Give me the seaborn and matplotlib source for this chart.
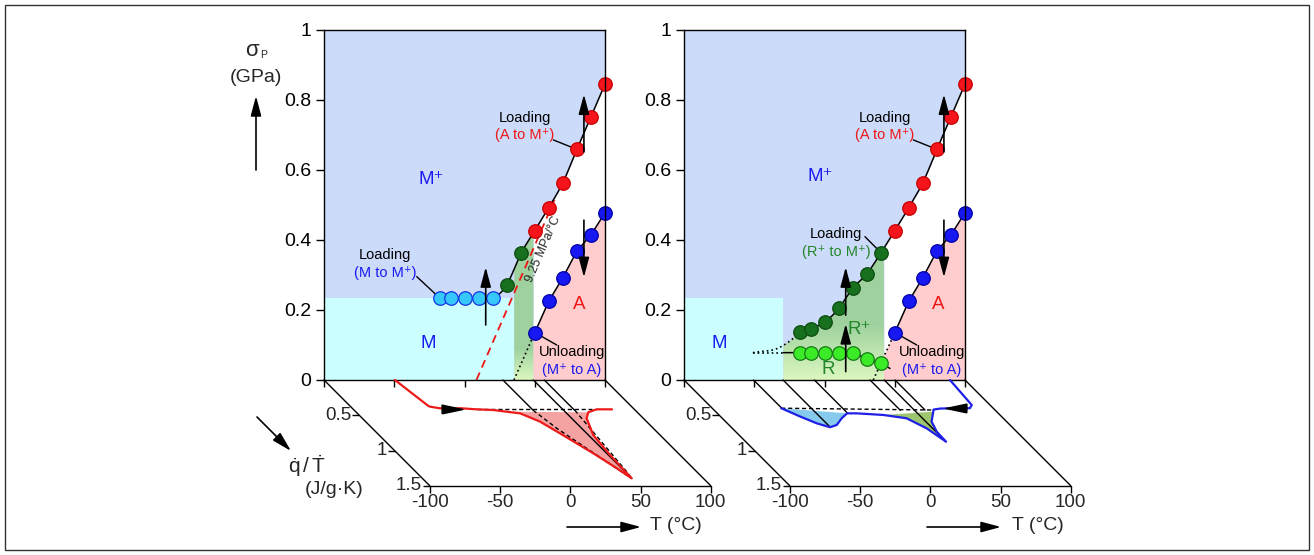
import numpy as np
import matplotlib
matplotlib.use("Agg")
import matplotlib.pyplot as plt
import matplotlib.transforms as mtransforms
from matplotlib.patches import Polygon, Rectangle, FancyArrowPatch
from matplotlib.markers import TICKDOWN, TICKLEFT
import seaborn as sns

# ====================== DATA ======================
T_ticks = [-100, -50, 0, 50, 100]
T_tick_labels = ["-100", "-50", "0", "50", "100"]
sigma_ticks = [0, 0.2, 0.4, 0.6, 0.8, 1.0]
sigma_tick_labels = ["0", "0.2", "0.4", "0.6", "0.8", "1"]
q_ticks = [0.5, 1.0, 1.5]
q_tick_labels = ["0.5", "1", "1.5"]

# loading A -> M+ and unloading M+ -> A (both panels)
T_A_to_Mp = [50, 60, 70, 80, 90, 100]
sig_A_to_Mp = [0.426, 0.492, 0.563, 0.658, 0.751, 0.844]
T_Mp_to_A = [50, 60, 70, 80, 90, 100]
sig_Mp_to_A = [0.135, 0.225, 0.292, 0.368, 0.414, 0.477]

# left panel: M -> M+ loading, and transitional points
T_M_to_Mp = [-17.4, -9.8, 0.4, 10.1, 20.1]
sig_M_to_Mp = [0.233, 0.233, 0.233, 0.233, 0.233]
T_trans_left = [30.0, 40.2]
sig_trans_left = [0.271, 0.361]

# right panel: R+ -> M+ loading, R plateau
T_Rp_to_Mp = [-17.4, -9.8, 0.4, 10.1, 20.1, 30.0, 40.2]
sig_Rp_to_Mp = [0.136, 0.146, 0.166, 0.204, 0.262, 0.302, 0.363]
T_R = [-17.4, -9.8, 0.4, 10.1, 20.1, 30.0, 40.2]
sig_R = [0.078, 0.078, 0.078, 0.078, 0.078, 0.061, 0.048]
T_Rp_extrap = [-51.0, -45.9, -36.4, -28.8, -22.2]
sig_Rp_extrap = [0.078, 0.081, 0.086, 0.100, 0.119]
T_R_ends = [-51.0, -29.3, 46.6]
sig_R_ends = [0.078, 0.078, 0.033]

# phase field limits
M_top = 0.233
band_left_panel = [35.4, 49.0]
band_right_panel = [-29.3, 42.3]
unload_zero_T = [35.2, 34.7]
cc_slope = 0.00925          # GPa/°C  (9.25 MPa/°C)
cc_T = [8.5, 64.0]

# DSC heating curve (left floor)
T_dsc_heat = [-49.5, -44.2, -43.5, -38.0, -31.0, -23.3, -12.2, -0.8, 7.5, 15.8, 20.6, 24.1,
              30.0, 39.5, 45.5, 49.0, 50.2, 52.5, 59.7, 65.1, 73.2, 84.1]
q_dsc_heat = [0.0, 0.369, 0.378, 0.40, 0.41, 0.40, 0.416, 0.426, 0.45, 0.473, 0.54, 0.59,
              0.757, 1.04, 1.25, 1.395, 1.064, 0.78, 0.543, 0.458, 0.416, 0.416]
heat_base_T = [-12.0, 70.0]
heat_base_q = [0.415, 0.415]
heat_tri_left_T = [27.3, 31.3, 47.7, 49.0]
heat_tri_left_q = [0.43, 0.686, 1.348, 1.395]
heat_tri_right_T = [57.0, 50.2, 49.0]
heat_tri_right_q = [0.43, 1.30, 1.395]
heat_guide_T = [27.3, 49.0, 56.8]
heat_guide_q = [0.43, 1.395, 0.43]

# DSC cooling curve (right floor)
T_dsc_cool = [89.3, 87.0, 83.4, 72.0, 62.0, 56.5, 54.9, 46.6, 43.1, 42.6, 38.3, 31.2, 17.0,
              -0.8, -7.7, -15.0, -23.3, -29.7, -36.4, -43.2, -50.9]
q_dsc_cool = [0.0, 0.355, 0.40, 0.40, 0.405, 0.42, 0.449, 0.59, 0.733, 0.875, 0.686, 0.543, 0.496,
              0.473, 0.473, 0.543, 0.638, 0.67, 0.614, 0.52, 0.40]
cool_base_T = [-50.9, 56.1]
cool_base_q = [0.40, 0.426]
cool_guide_T = [-50.5, -29.5, -7.2, 32.4, 42.5, 50.2]
cool_guide_q = [0.40, 0.67, 0.465, 0.43, 0.875, 0.426]

# ====================== STYLE ======================
sns.set_style("ticks")
plt.rcParams["font.family"] = ["Liberation Sans", "DejaVu Sans"]
plt.rcParams["mathtext.fontset"] = "custom"
plt.rcParams["mathtext.rm"] = "Liberation Sans"
plt.rcParams["mathtext.it"] = "Liberation Sans"

LAV = "#CCDBFA"
CYAN = "#CCFFFF"
PINK = "#FFCDCD"
G_DARK = np.array([0.62, 0.82, 0.62])
G_LIGHT = np.array([0.86, 0.97, 0.75])
BLUE_T = "#1A1AF0"
RED_T = "#F01515"
GREEN_T = "#23862A"

W, H = 1314, 555
fig = plt.figure(figsize=(W / 100, H / 100), dpi=100)


def fbox(x0, y0, x1, y1):
    return [x0 / W, 1 - y1 / H, (x1 - x0) / W, (y1 - y0) / H]


def fpt(x, y):
    return (x / W, 1 - y / H)


PX_T = 281 / 200.0
PX_Q = 70.5
SHEAR = PX_Q / PX_T
TOP_Y, BOT_Y = 29.5, 380.0


def catmull(xs, ys, n=16):
    P = np.column_stack([xs, ys]).astype(float)
    P = np.vstack([2 * P[0] - P[1], P, 2 * P[-1] - P[-2]])
    t = np.linspace(0, 1, n, endpoint=False)[:, None]
    segs = []
    for i in range(1, len(P) - 2):
        p0, p1, p2, p3 = P[i - 1], P[i], P[i + 1], P[i + 2]
        segs.append(0.5 * (2 * p1 + (p2 - p0) * t + (2 * p0 - 5 * p1 + 4 * p2 - p3) * t ** 2
                           + (3 * p1 - p0 - 3 * p2 + p3) * t ** 3))
    segs.append(P[-2:-1])
    out = np.vstack(segs)
    return out[:, 0], out[:, 1]


def gradient_poly(ax, xy, fade):
    patch = Polygon(xy, closed=True, facecolor="none", edgecolor="none")
    ax.add_patch(patch)
    ys = np.linspace(0, 1, 400)
    f = np.clip(ys / fade, 0, 1)[:, None]
    img = G_LIGHT[None, :] * (1 - f) + G_DARK[None, :] * f
    img = img[:, None, :]
    xs = [p[0] for p in xy]
    im = ax.imshow(img, extent=(min(xs), max(xs), 0, 1), origin="lower", aspect="auto",
                   zorder=0.8, interpolation="bilinear")
    im.set_clip_path(patch)


def scatter(ax, x, y, face, edge):
    sns.scatterplot(x=x, y=y, s=95, color=face, edgecolor=edge, linewidth=0.9,
                    ax=ax, zorder=5, legend=False, clip_on=False)


def vline_arrow(ax, T, s0, s1):
    ax.annotate("", xy=(T, s1), xytext=(T, s0),
                arrowprops=dict(arrowstyle="-|>,head_length=0.75,head_width=0.2",
                                mutation_scale=16, color="black", lw=1.2,
                                shrinkA=0, shrinkB=0), zorder=6)


def top_panel(x0, right):
    ax = fig.add_axes(fbox(x0, TOP_Y, x0 + 281, BOT_Y))
    ax.set_xlim(-100, 100)
    ax.set_ylim(0, 1)
    ax.set_facecolor(LAV)
    ax.set_xticks(T_ticks)
    ax.set_xticklabels([])
    ax.set_yticks(sigma_ticks)
    ax.set_yticklabels(sigma_tick_labels, fontsize=14)
    ax.tick_params(axis="y", direction="out", length=6, width=1, pad=3, colors="black")
    ax.tick_params(axis="x", direction="out", length=5, width=1, colors="black")
    for sp in ax.spines.values():
        sp.set_visible(True)
        sp.set_color("black")
        sp.set_linewidth(1)
        sp.set_zorder(7)
    ax.set_xlabel("")
    ax.set_ylabel("")

    idx = 1 if right else 0
    if right:
        Tl = T_Rp_extrap + T_Rp_to_Mp + T_A_to_Mp
        sl = sig_Rp_extrap + sig_Rp_to_Mp + sig_A_to_Mp
        gl, gr = band_right_panel
    else:
        Tl = T_M_to_Mp + T_trans_left + T_A_to_Mp
        sl = sig_M_to_Mp + sig_trans_left + sig_A_to_Mp
        gl, gr = band_left_panel
    Tc, Sc = catmull(Tl, sl)

    # white region (between loading and unloading)
    m = Tc >= gr
    ax.fill_between(np.r_[gr, Tc[m]], 0, np.r_[np.interp(gr, Tc, Sc), Sc[m]],
                    color="white", lw=0, zorder=0.3)
    # austenite region
    z0 = unload_zero_T[idx]
    s_at_gr = np.interp(gr, [z0, T_Mp_to_A[0]], [0, sig_Mp_to_A[0]])
    pink_xy = [(gr, 0), (100, 0)] + list(zip(T_Mp_to_A[::-1], sig_Mp_to_A[::-1])) + [(gr, s_at_gr)]
    ax.add_patch(Polygon(pink_xy, closed=True, facecolor=PINK, edgecolor="none", zorder=0.4))
    # martensite M region
    ax.fill_between([-100, gl], 0, M_top, color=CYAN, lw=0, zorder=0.5)
    # green band (transition / R phase)
    mb = (Tc > gl) & (Tc < gr)
    top_T = np.r_[gl, Tc[mb], gr]
    top_S = np.r_[np.interp(gl, Tc, Sc), Sc[mb], np.interp(gr, Tc, Sc)]
    band_xy = [(gl, 0), (gr, 0)] + list(zip(top_T[::-1], top_S[::-1]))
    gradient_poly(ax, band_xy, 0.16 if right else 0.09)

    # loading curve
    if right:
        md = Tc <= T_Rp_to_Mp[0]
        ax.plot(Tc[md], Sc[md], color="black", lw=1.2, ls=(0, (1, 1.8)), zorder=3)
        sns.lineplot(x=Tc[~md], y=Sc[~md], sort=False, estimator=None, color="black",
                     lw=1.1, ax=ax, zorder=3)
        # R plateau line
        ax.plot(T_R_ends[:2], sig_R_ends[:2], color="black", lw=1.2, ls=(0, (1, 1.8)), zorder=3)
        sns.lineplot(x=[T_R_ends[1]] + T_R + [T_R_ends[2]], y=[sig_R_ends[1]] + sig_R + [sig_R_ends[2]],
                     sort=False, estimator=None, color="black", lw=1.1, ax=ax, zorder=3)
    else:
        sns.lineplot(x=Tc, y=Sc, sort=False, estimator=None, color="black", lw=1.1, ax=ax, zorder=3)
        # Clausius-Clapeyron line
        cT = np.array(cc_T)
        ax.plot(cT, cc_slope * (cT - cc_T[0]), color="#F01515", lw=1.3, ls=(0, (4.5, 3)), zorder=2.5)
        ang = np.degrees(np.arctan(cc_slope))
        ax.text(55.8, 0.372, "9.25 MPa/°C", fontsize=9, rotation=ang, transform_rotates_text=True,
                rotation_mode="anchor", ha="center", va="center", zorder=6)

    # unloading line and dotted extrapolation
    sns.lineplot(x=T_Mp_to_A, y=sig_Mp_to_A, sort=False, estimator=None, color="black", lw=1.1,
                 ax=ax, zorder=3)
    ax.plot([z0, T_Mp_to_A[0]], [0, sig_Mp_to_A[0]], color="black", lw=1.2, ls=(0, (1, 1.8)), zorder=3)

    # leader lines
    lk = dict(color="black", lw=1.0, zorder=3)
    ax.plot([63.2, 80], [0.685, 0.658], **lk)
    ax.plot([50.2, 65.6], [0.135, 0.10], **lk)
    if right:
        ax.plot([28.8, 40.2], [0.409, 0.363], **lk)
    else:
        ax.plot([-34.0, -17.4], [0.295, 0.233], **lk)

    # points
    scatter(ax, T_A_to_Mp, sig_A_to_Mp, "#F5141C", "#C80000")
    scatter(ax, T_Mp_to_A, sig_Mp_to_A, "#1717F2", "#0000A8")
    if right:
        scatter(ax, T_Rp_to_Mp, sig_Rp_to_Mp, "#17701D", "#0C4C10")
        scatter(ax, T_R, sig_R, "#3BEB27", "#167A16")
    else:
        scatter(ax, T_M_to_Mp, sig_M_to_Mp, "#36C8FA", "#1535E6")
        scatter(ax, T_trans_left, sig_trans_left, "#17701D", "#0C4C10")

    # arrows
    vline_arrow(ax, 85, 0.651, 0.815)
    vline_arrow(ax, 85, 0.456, 0.293)
    if right:
        vline_arrow(ax, 15.1, 0.024, 0.160)
        vline_arrow(ax, 15.1, 0.185, 0.322)
    else:
        vline_arrow(ax, 15.1, 0.157, 0.322)

    # labels
    tk = dict(ha="center", va="center", zorder=6)
    ax.text(43, 0.748, "Loading", fontsize=10.5, color="black", **tk)
    ax.text(43, 0.699, "(A to M⁺)", fontsize=10.5, color=RED_T, **tk)
    ax.text(76.3, 0.081, "Unloading", fontsize=10.5, color="black", **tk)
    ax.text(76.3, 0.029, "(M⁺ to A)", fontsize=10.5, color=BLUE_T, **tk)
    ax.text(82 if not right else 81, 0.214, "A", fontsize=13.5, color=RED_T, **tk)
    if right:
        ax.text(-3.2, 0.58, "M⁺", fontsize=13.5, color=BLUE_T, **tk)
        ax.text(-74.9, 0.103, "M", fontsize=13.5, color=BLUE_T, **tk)
        ax.text(24.5, 0.145, "R⁺", fontsize=13.5, color=GREEN_T, **tk)
        ax.text(2.9, 0.030, "R", fontsize=13.5, color=GREEN_T, **tk)
        ax.text(8.2, 0.416, "Loading", fontsize=10.5, color="black", **tk)
        ax.text(8.2, 0.364, "(R⁺ to M⁺)", fontsize=10.5, color=GREEN_T, **tk)
    else:
        ax.text(-23.4, 0.571, "M⁺", fontsize=13.5, color=BLUE_T, **tk)
        ax.text(-25.8, 0.105, "M", fontsize=13.5, color=BLUE_T, **tk)
        ax.text(-56.6, 0.357, "Loading", fontsize=10.5, color="black", **tk)
        ax.text(-56.6, 0.304, "(M to M⁺)", fontsize=10.5, color=BLUE_T, **tk)
    return ax


HEAD = [(-1, -0.42), (1, 0), (-1, 0.42), (-1, -0.42)]
HEAD_L = [(1, -0.42), (-1, 0), (1, 0.42), (1, -0.42)]


def floor_panel(x0, right):
    axf = fig.add_axes(fbox(x0, BOT_Y, x0 + 281 + 1.5 * PX_Q, BOT_Y + 1.5 * PX_Q))
    axf.set_xlim(-100, 100 + 1.5 * SHEAR)
    axf.set_ylim(1.5, 0)
    axf.axis("off")
    sk = mtransforms.Affine2D(np.array([[1.0, SHEAR, 0.0], [0.0, 1.0, 0.0], [0.0, 0.0, 1.0]])) + axf.transData
    ek = dict(color="black", lw=1.0, transform=sk, clip_on=False, zorder=2)
    axf.plot([T_ticks[0], T_ticks[0]], [0, q_ticks[-1]], **ek)
    axf.plot([T_ticks[-1], T_ticks[-1]], [0, q_ticks[-1]], **ek)
    axf.plot([T_ticks[0], T_ticks[-1]], [q_ticks[-1], q_ticks[-1]], **ek)
    for t, lab in zip(T_ticks, T_tick_labels):
        axf.plot([t], [q_ticks[-1]], marker=TICKDOWN, ms=5, mew=1.0, color="black",
                 transform=sk, clip_on=False)
        axf.annotate(lab, xy=(t, q_ticks[-1]), xycoords=sk, xytext=(0, -6),
                     textcoords="offset points", ha="center", va="top", fontsize=13.5)
    for qv, lab in zip(q_ticks, q_tick_labels):
        axf.plot([T_ticks[0]], [qv], marker=TICKLEFT, ms=5, mew=1.0, color="black",
                 transform=sk, clip_on=False)
        axf.annotate(lab, xy=(T_ticks[0], qv), xycoords=sk, xytext=(-5.5, 0),
                     textcoords="offset points", ha="right", va="center", fontsize=13.5)

    if right:
        Td, qd = np.array(T_dsc_cool), np.array(q_dsc_cool)
        gT, gq = cool_guide_T, cool_guide_q
        for lo, hi, col in [(17.0, 54.9, "#9DC66E"), (-50.9, -7.7, "#86CAEE")]:
            mm = (Td >= lo) & (Td <= hi)
            axf.add_patch(Polygon(np.column_stack([Td[mm], qd[mm]]), closed=True, facecolor=col,
                                  edgecolor="none", transform=sk, zorder=1))
        axf.plot(cool_base_T, cool_base_q, color="black", lw=1.0, ls=(0, (3, 2)), transform=sk, zorder=2.5)
        for t, qq in zip(gT, gq):
            axf.plot([t, t], [0, qq], color="black", lw=1.0, transform=sk, clip_on=False, zorder=2)
        axf.plot(Td, qd, color="#1F1FE6", lw=1.6, transform=sk, clip_on=False, zorder=3)
        axf.plot([73.5], [0.40], marker=HEAD_L, ms=15, color="black", transform=sk, zorder=4)
    else:
        Td, qd = np.array(T_dsc_heat), np.array(q_dsc_heat)
        mm = (Td >= 7.5) & (Td <= 65.1)
        axf.add_patch(Polygon(np.column_stack([Td[mm], qd[mm]]), closed=True, facecolor="#F4A2A2",
                              edgecolor="none", transform=sk, zorder=1))
        axf.plot(heat_base_T, heat_base_q, color="black", lw=1.0, ls=(0, (3, 2)), transform=sk, zorder=2.5)
        for t, qq in zip(heat_guide_T, heat_guide_q):
            axf.plot([t, t], [0, qq], color="black", lw=1.0, transform=sk, clip_on=False, zorder=2)
        axf.plot(heat_tri_left_T, heat_tri_left_q, color="black", lw=1.0, ls=(0, (3, 2)), transform=sk, zorder=2.5)
        axf.plot(heat_tri_right_T, heat_tri_right_q, color="black", lw=1.0, ls=(0, (3, 2)), transform=sk, zorder=2.5)
        axf.plot(Td, qd, color="#EE1A1A", lw=1.6, transform=sk, clip_on=False, zorder=3)
        axf.plot([-29.5], [0.41], marker=HEAD, ms=15, color="black", transform=sk, zorder=4)
    return axf


top_panel(324, False)
top_panel(684, True)
floor_panel(324, False)
floor_panel(684, True)

# ---- figure-level labels ----
fig.text(*fpt(252, 50), "σ", fontsize=16, ha="center", va="center")
fig.text(*fpt(264, 55), "P", fontsize=7.5, ha="center", va="center")
fig.text(*fpt(256, 77), "(GPa)", fontsize=14, ha="center", va="center")
fig.text(*fpt(307, 466), r"$\mathrm{\dot{q}\,/\,\dot{T}}$", fontsize=15, ha="center", va="center")
fig.text(*fpt(334, 490), "(J/g·K)", fontsize=14, ha="center", va="center")
for cx in (676, 1038):
    fig.text(*fpt(cx, 526), "T (°C)", fontsize=14, ha="center", va="center")

arr = dict(arrowstyle="-|>,head_length=0.75,head_width=0.2", mutation_scale=16, color="black",
           lw=1.2, shrinkA=0, shrinkB=0, transform=fig.transFigure)
fig.patches.append(FancyArrowPatch(fpt(256, 170), fpt(256, 96), **arr))
fig.patches.append(FancyArrowPatch(fpt(257, 417), fpt(291, 451), **arr))
fig.patches.append(FancyArrowPatch(fpt(567, 527), fpt(641, 527), **arr))
fig.patches.append(FancyArrowPatch(fpt(927, 527), fpt(1001, 527), **arr))

fig.patches.append(Rectangle(fpt(5, 550), (1309 - 5) / W, (550 - 5) / H, transform=fig.transFigure,
                             fill=False, edgecolor="#333333", lw=1.0))

fig.savefig("out.png", dpi=100)
